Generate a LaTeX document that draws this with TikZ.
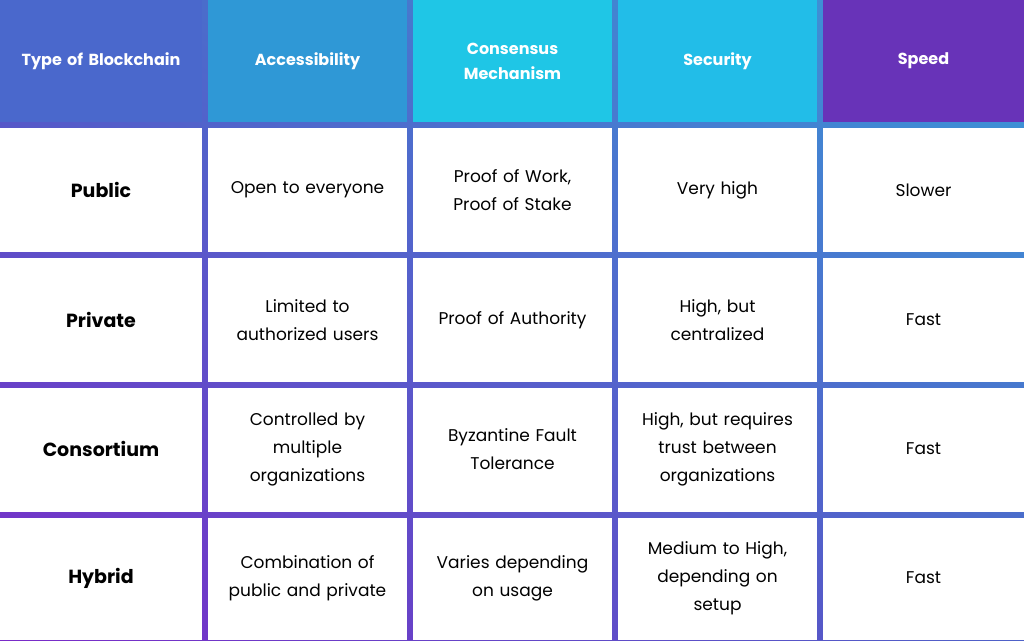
\documentclass[tikz,border=0pt]{standalone}
\usepackage{fontspec}
\setmainfont{Poppins}
\usepackage{tikz}
\usetikzlibrary{positioning,calc,shadings}

\definecolor{gridpurple}{HTML}{7A2BC8}
\definecolor{gridblue}{HTML}{3A9BD8}
\definecolor{gridmid}{HTML}{4E62C8}
\definecolor{headA}{HTML}{4A68CC}
\definecolor{headB}{HTML}{2F98D6}
\definecolor{headC}{HTML}{1FC6E6}
\definecolor{headD}{HTML}{22BDE8}
\definecolor{headE}{HTML}{6833B8}

\begin{document}
\begin{tikzpicture}[
    x=1pt, y=-1pt,
    head/.style={text width=185pt, align=center, text=white, font=\fontsize{16}{25}\selectfont\bfseries},
    rowname/.style={text width=185pt, align=center, font=\fontsize{19}{28}\selectfont\bfseries},
    cell/.style={text width=195pt, align=center, font=\fontsize{17}{28}\selectfont}
]
    \useasboundingbox (0,0) rectangle (1024,640);
    % grid lines as gradient background
    \shade[lower left=gridpurple, upper left=gridmid, upper right=gridblue, lower right=gridmid]
        (0,640) rectangle (1024,0);
    % header cells
    \fill[headA] (0,0) rectangle (202,122);
    \fill[headB] (208,0) rectangle (407,122);
    \fill[headC] (413,0) rectangle (612,122);
    \fill[headD] (618,0) rectangle (817,122);
    \fill[headE] (823,0) rectangle (1024,122);
    % body cells
    \foreach \ya/\yb in {128/252, 258/382, 388/512, 518/640}
        \foreach \xa/\xb in {0/202, 208/407, 413/612, 618/817, 823/1024}
            \fill[white] (\xa,\ya) rectangle (\xb,\yb);

    \node[head] (h1) at (101,61) {Type of Blockchain};
    \node[head] (h2) at (307.5,61) {Accessibility};
    \node[head] (h3) at (512.5,61) {Consensus\\Mechanism};
    \node[head] (h4) at (717.5,61) {Security};
    \node[head] (h5) at (923.5,61) {Speed};

    \node[rowname] (public) at (101,190) {Public};
    \node[cell] (acc1) at (307.5,190) {Open to everyone};
    \node[cell] (con1) at (512.5,190) {Proof of Work,\\Proof of Stake};
    \node[cell] (sec1) at (717.5,190) {Very high};
    \node[cell] (spd1) at (923.5,190) {Slower};

    \node[rowname] (private) at (101,320) {Private};
    \node[cell] (acc2) at (307.5,320) {Limited to\\authorized users};
    \node[cell] (con2) at (512.5,320) {Proof of Authority};
    \node[cell] (sec2) at (717.5,320) {High, but\\centralized};
    \node[cell] (spd2) at (923.5,320) {Fast};

    \node[rowname] (consortium) at (101,449) {Consortium};
    \node[cell] (acc3) at (307.5,449) {Controlled by\\multiple\\organizations};
    \node[cell] (con3) at (512.5,449) {Byzantine Fault\\Tolerance};
    \node[cell] (sec3) at (717.5,449) {High, but requires\\trust between\\organizations};
    \node[cell] (spd3) at (923.5,449) {Fast};

    \node[rowname] (hybrid) at (101,578) {Hybrid};
    \node[cell] (acc4) at (307.5,578) {Combination of\\public and private};
    \node[cell] (con4) at (512.5,578) {Varies depending\\on usage};
    \node[cell] (sec4) at (717.5,578) {Medium to High,\\depending on\\setup};
    \node[cell] (spd4) at (923.5,578) {Fast};
\end{tikzpicture}
\end{document}
